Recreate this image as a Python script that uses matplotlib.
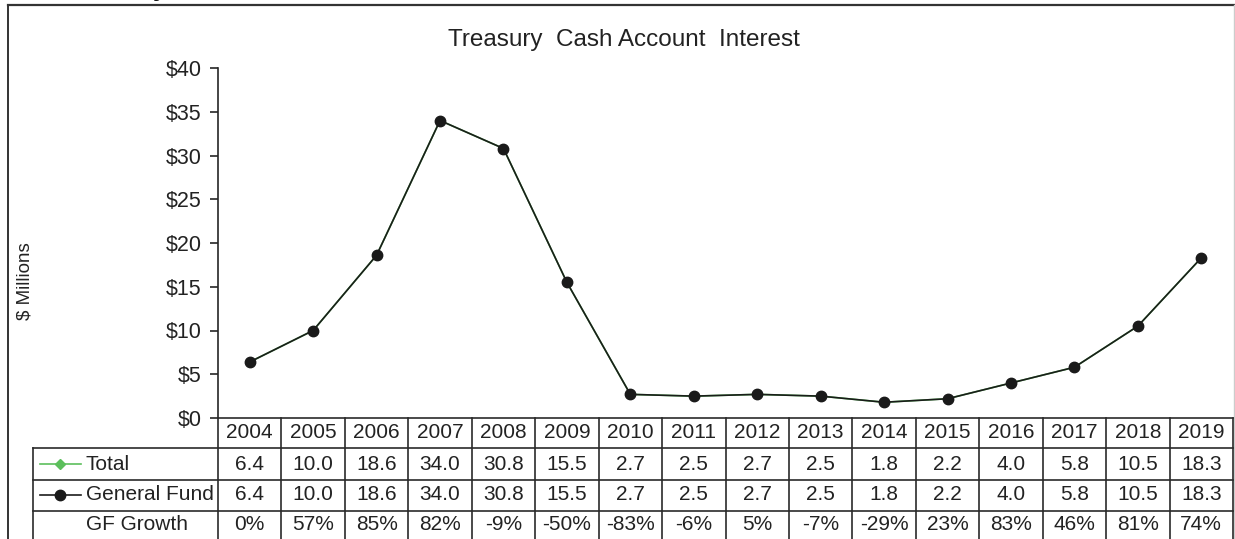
import matplotlib
matplotlib.use("Agg")
import matplotlib.pyplot as plt
from matplotlib.lines import Line2D
from matplotlib.transforms import blended_transform_factory

years = [2004, 2005, 2006, 2007, 2008, 2009, 2010, 2011, 2012, 2013,
         2014, 2015, 2016, 2017, 2018, 2019]
total = [6.4, 10.0, 18.6, 34.0, 30.8, 15.5, 2.7, 2.5, 2.7, 2.5,
         1.8, 2.2, 4.0, 5.8, 10.5, 18.3]
general_fund = [6.4, 10.0, 18.6, 34.0, 30.8, 15.5, 2.7, 2.5, 2.7, 2.5,
                1.8, 2.2, 4.0, 5.8, 10.5, 18.3]
gf_growth = ["0%", "57%", "85%", "82%", "-9%", "-50%", "-83%", "-6%", "5%", "-7%",
             "-29%", "23%", "83%", "46%", "81%", "74%"]
y_ticks = [0, 5, 10, 15, 20, 25, 30, 35, 40]
title = "Treasury  Cash Account  Interest"
y_label = "$ Millions"

plt.rcParams['font.family'] = ['Liberation Sans', 'DejaVu Sans']
W, H = 1235, 539
fig = plt.figure(figsize=(W / 100, H / 100), dpi=100)

def fx(p):
    return p / W

def fy(p):
    return 1 - p / H

TXT = '#222222'
LINE = '#262626'
GREEN = '#5cbf5c'
FS = 15

ax_l, ax_r, ax_t, ax_b = 218, 1233, 68, 418
ax = fig.add_axes([fx(ax_l), fy(ax_b), fx(ax_r) - fx(ax_l), fy(ax_t) - fy(ax_b)])
x = list(range(len(years)))
ax.plot(x, total, color=GREEN, lw=1.2, marker='D', ms=5, zorder=2)
ax.plot(x, general_fund, color='#1a1d1a', lw=1.2, marker='o', ms=7.5,
        markerfacecolor='#1a1a1a', markeredgecolor='#1a1a1a', zorder=3)
ax.set_xlim(-0.5, len(years) - 0.5)
ax.set_ylim(0, 40)
ax.set_yticks(y_ticks)
ax.set_yticklabels([f"${v}" for v in y_ticks], fontsize=15.5, color=TXT)
ax.set_xticks([])
for s in ['top', 'right', 'bottom']:
    ax.spines[s].set_visible(False)
ax.spines['left'].set_color(LINE)
ax.spines['left'].set_linewidth(1.2)
ax.tick_params(axis='y', direction='out', length=6, width=1.2, color=LINE, pad=6)
ax.patch.set_alpha(0)

fig.text(fx(624), fy(40), title, ha='center', va='center', fontsize=17.5, color=TXT)
fig.text(fx(25), fy(281), y_label, ha='center', va='center', rotation=90,
         fontsize=13.5, color=TXT)
# cut-off heading fragment at the very top
fig.text(fx(153), fy(-4), "y", ha='left', va='baseline', fontsize=18,
         fontweight='bold', color='#111111')

# outer border
fig.add_artist(Line2D([fx(8), fx(1235)], [fy(5), fy(5)], transform=fig.transFigure,
                      color='#333333', lw=1.6))
fig.add_artist(Line2D([fx(8), fx(8)], [fy(5), fy(539)], transform=fig.transFigure,
                      color='#333333', lw=1.4))
fig.add_artist(Line2D([fx(1234), fx(1234)], [fy(5), fy(539)], transform=fig.transFigure,
                      color='#cccccc', lw=1.0))

# data table
bt = blended_transform_factory(ax.transData, fig.transFigure)
row_lines = [418, 448, 480, 511]
TL = '#2a2a2a'
fig.add_artist(Line2D([fx(ax_l), fx(ax_r)], [fy(418), fy(418)], transform=fig.transFigure,
                      color=TL, lw=1.2))
for p in row_lines[1:]:
    fig.add_artist(Line2D([fx(33), fx(ax_r)], [fy(p), fy(p)], transform=fig.transFigure,
                          color=TL, lw=1.2))
fig.add_artist(Line2D([fx(33), fx(33)], [fy(448), fy(539)], transform=fig.transFigure,
                      color=TL, lw=1.2))
for i in range(len(years) + 1):
    fig.add_artist(Line2D([i - 0.5, i - 0.5], [fy(418), fy(539)], transform=bt,
                          color=TL, lw=1.2))

rows_y = [433, 464, 495, 525]
for i in range(len(years)):
    fig.text(i, fy(rows_y[0]), str(years[i]), transform=bt, ha='center', va='center',
             fontsize=FS, color=TXT)
    fig.text(i, fy(rows_y[1]), f"{total[i]:.1f}", transform=bt, ha='center', va='center',
             fontsize=FS, color=TXT)
    fig.text(i, fy(rows_y[2]), f"{general_fund[i]:.1f}", transform=bt, ha='center',
             va='center', fontsize=FS, color=TXT)
    fig.text(i, fy(rows_y[3]), gf_growth[i], transform=bt, ha='center', va='center',
             fontsize=FS, color=TXT)

# legend keys in the table
fig.add_artist(Line2D([fx(40), fx(81)], [fy(464), fy(464)], transform=fig.transFigure,
                      color=GREEN, lw=1.2, marker=None))
fig.add_artist(Line2D([fx(60)], [fy(464)], transform=fig.transFigure,
                      color=GREEN, marker='D', ms=5, lw=0))
fig.add_artist(Line2D([fx(40), fx(81)], [fy(495), fy(495)], transform=fig.transFigure,
                      color='#1c1c1c', lw=1.2))
fig.add_artist(Line2D([fx(60)], [fy(495)], transform=fig.transFigure,
                      color='#1a1a1a', marker='o', ms=7.5, lw=0))
fig.text(fx(86), fy(rows_y[1]), "Total", ha='left', va='center', fontsize=FS, color=TXT)
fig.text(fx(86), fy(rows_y[2]), "General Fund", ha='left', va='center', fontsize=FS,
         color=TXT)
fig.text(fx(86), fy(rows_y[3]), "GF Growth", ha='left', va='center', fontsize=FS,
         color=TXT)

fig.savefig("out.png", dpi=100)
